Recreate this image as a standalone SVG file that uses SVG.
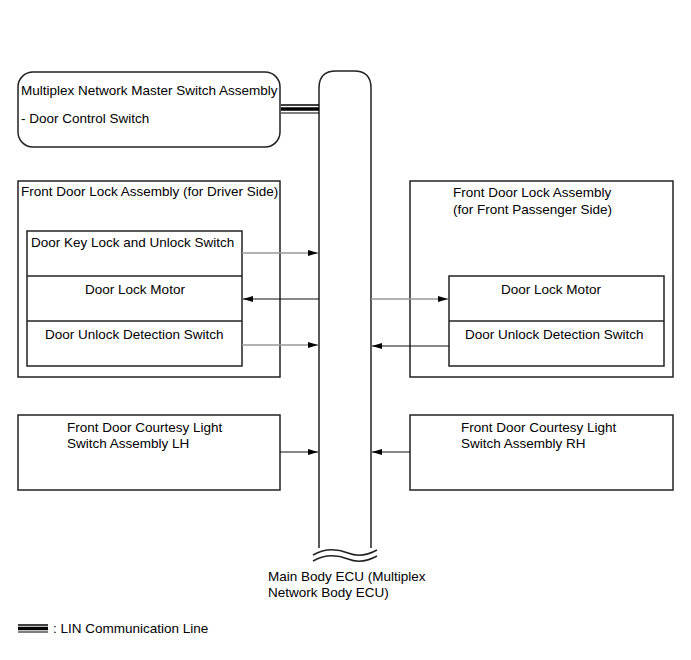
<svg xmlns="http://www.w3.org/2000/svg" width="691" height="660" viewBox="0 0 691 660">
<defs>
<marker id="ah" viewBox="0 0 10 6" refX="10" refY="3" markerWidth="10" markerHeight="6" markerUnits="userSpaceOnUse" orient="auto">
<path d="M0,0 L10,3 L0,6 Z" fill="#000"/>
</marker>
</defs>
<style>
text{font-family:"Liberation Sans",Arial,sans-serif;font-size:13.5px;fill:#000}
.box{fill:#fff;stroke:#222;stroke-width:1.5}
.ln{fill:none;stroke:#222;stroke-width:1.5}
.blk{stroke:#111;stroke-width:1.2;fill:none}
.gry{stroke:#999;stroke-width:1.5;fill:none}
.mid{text-anchor:middle}
</style>
<rect width="691" height="660" fill="#fff"/>

<g id="ecu">
<path class="ln" d="M319,548 L319,88 Q319,71 336,71 L354,71 Q371,71 371,88 L371,548"/>
<path class="ln" stroke-width="1.2" d="M313,555 C325,548 338,549 348,553 C358,557 368,555 377,550"/>
<path class="ln" stroke-width="1.2" d="M313,561 C325,554 338,555 348,559 C358,563 368,561 377,556"/>
<text x="268" y="581">Main Body ECU (Multiplex</text>
<text x="268" y="597">Network Body ECU)</text>
</g>

<g id="master-switch">
<rect class="box" x="18" y="72" width="262" height="75" rx="15" ry="15"/>
<text x="21" y="95">Multiplex Network Master Switch Assembly</text>
<text x="21" y="123">- Door Control Switch</text>
</g>

<g id="driver-door-lock">
<rect class="box" x="18" y="181" width="262" height="196"/>
<text x="21" y="196">Front Door Lock Assembly (for Driver Side)</text>
<rect class="box" x="27" y="231" width="215" height="135"/>
<line class="ln" x1="27" y1="276" x2="242" y2="276"/>
<line class="ln" x1="27" y1="321" x2="242" y2="321"/>
<text x="31" y="247">Door Key Lock and Unlock Switch</text>
<text class="mid" x="135" y="294">Door Lock Motor</text>
<text x="45" y="339">Door Unlock Detection Switch</text>
</g>

<g id="passenger-door-lock">
<rect class="box" x="410" y="181" width="263" height="196"/>
<text x="453" y="197">Front Door Lock Assembly</text>
<text x="453" y="214">(for Front Passenger Side)</text>
<rect class="box" x="449" y="276" width="215" height="90"/>
<line class="ln" x1="449" y1="321" x2="664" y2="321"/>
<text class="mid" x="551" y="294">Door Lock Motor</text>
<text x="465" y="339">Door Unlock Detection Switch</text>
</g>

<g id="courtesy-lh">
<rect class="box" x="18" y="415" width="262" height="75"/>
<text x="67" y="432">Front Door Courtesy Light</text>
<text x="67" y="448">Switch Assembly LH</text>
</g>

<g id="courtesy-rh">
<rect class="box" x="410" y="415" width="263" height="75"/>
<text x="461" y="432">Front Door Courtesy Light</text>
<text x="461" y="448">Switch Assembly RH</text>
</g>

<g id="connectors">
<g id="lin-bus">
<line x1="281" y1="105" x2="319" y2="105" stroke="#000" stroke-width="1.5"/>
<line x1="281" y1="109" x2="319" y2="109" stroke="#000" stroke-width="3.5"/>
<line x1="281" y1="113" x2="319" y2="113" stroke="#000" stroke-width="1"/>
</g>
<line class="gry" x1="242" y1="253" x2="318" y2="253" marker-end="url(#ah)"/>
<line class="blk" x1="319" y1="299" x2="243" y2="299" marker-end="url(#ah)"/>
<line class="gry" x1="242" y1="345" x2="318" y2="345" marker-end="url(#ah)"/>
<line class="gry" x1="371" y1="299" x2="448" y2="299" marker-end="url(#ah)"/>
<line class="blk" x1="449" y1="346" x2="372" y2="346" marker-end="url(#ah)"/>
<line class="blk" x1="280" y1="452" x2="318" y2="452" marker-end="url(#ah)"/>
<line class="blk" x1="410" y1="452" x2="372" y2="452" marker-end="url(#ah)"/>
</g>

<g id="legend">
<line x1="18" y1="625" x2="48" y2="625" stroke="#000" stroke-width="1.5"/>
<line x1="18" y1="628.5" x2="48" y2="628.5" stroke="#000" stroke-width="3.5"/>
<line x1="18" y1="632" x2="48" y2="632" stroke="#000" stroke-width="1"/>
<text x="53" y="633">: LIN Communication Line</text>
</g>
</svg>
